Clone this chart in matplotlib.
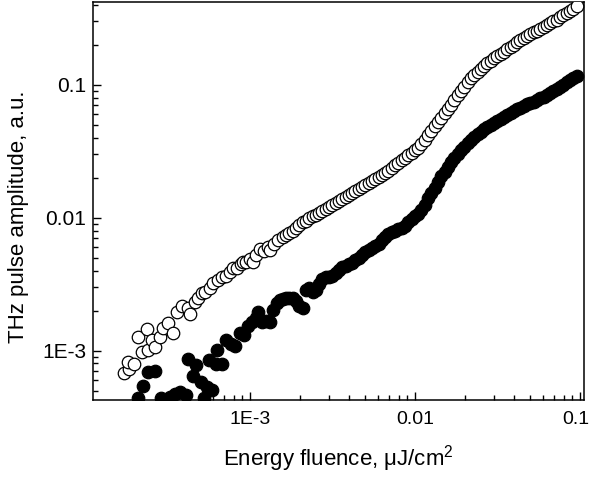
import numpy as np
import matplotlib
matplotlib.use("Agg")
import matplotlib.pyplot as plt
from matplotlib.ticker import FixedLocator, FixedFormatter, LogLocator, NullFormatter
from matplotlib.transforms import ScaledTranslation

# ---- data ----
# dense, log-spaced part shared by both curves
fluence_hi = [
    1.585e-3, 1.660e-3, 1.738e-3, 1.820e-3, 1.905e-3, 1.995e-3, 2.089e-3, 2.188e-3, 2.291e-3, 2.399e-3,
    2.512e-3, 2.630e-3, 2.754e-3, 2.884e-3, 3.020e-3, 3.162e-3, 3.311e-3, 3.467e-3, 3.631e-3, 3.802e-3,
    3.981e-3, 4.169e-3, 4.365e-3, 4.571e-3, 4.786e-3, 5.012e-3, 5.248e-3, 5.495e-3, 5.754e-3, 6.026e-3,
    6.310e-3, 6.607e-3, 6.918e-3, 7.244e-3, 7.586e-3, 7.943e-3, 8.318e-3, 8.710e-3, 9.120e-3, 9.550e-3,
    1.000e-2, 1.047e-2, 1.096e-2, 1.148e-2, 1.202e-2, 1.259e-2, 1.318e-2, 1.380e-2, 1.445e-2, 1.514e-2,
    1.585e-2, 1.660e-2, 1.738e-2, 1.820e-2, 1.905e-2, 1.995e-2, 2.089e-2, 2.188e-2, 2.291e-2, 2.399e-2,
    2.512e-2, 2.630e-2, 2.754e-2, 2.884e-2, 3.020e-2, 3.162e-2, 3.311e-2, 3.467e-2, 3.631e-2, 3.802e-2,
    3.981e-2, 4.169e-2, 4.365e-2, 4.571e-2, 4.786e-2, 5.012e-2, 5.248e-2, 5.495e-2, 5.754e-2, 6.026e-2,
    6.310e-2, 6.607e-2, 6.918e-2, 7.244e-2, 7.586e-2, 7.943e-2, 8.318e-2, 8.710e-2, 9.120e-2, 9.550e-2,
]
open_hi = [
    7.194e-3, 7.447e-3, 7.727e-3, 7.980e-3, 8.337e-3, 8.851e-3, 9.247e-3, 9.484e-3, 9.908e-3, 1.026e-2,
    1.054e-2, 1.084e-2, 1.122e-2, 1.161e-2, 1.199e-2, 1.242e-2, 1.285e-2, 1.330e-2, 1.377e-2, 1.426e-2,
    1.476e-2, 1.528e-2, 1.581e-2, 1.637e-2, 1.694e-2, 1.754e-2, 1.816e-2, 1.879e-2, 1.945e-2, 2.009e-2,
    2.089e-2, 2.173e-2, 2.265e-2, 2.366e-2, 2.472e-2, 2.588e-2, 2.704e-2, 2.825e-2, 2.951e-2, 3.083e-2,
    3.221e-2, 3.357e-2, 3.565e-2, 3.864e-2, 4.188e-2, 4.519e-2, 4.875e-2, 5.248e-2, 5.649e-2, 6.095e-2,
    6.561e-2, 7.096e-2, 7.674e-2, 8.318e-2, 8.974e-2, 9.683e-2, 0.1045, 0.1119, 0.1183, 0.1253,
    0.1321, 0.1384, 0.1449, 0.1514, 0.1578, 0.1641, 0.1706, 0.1774, 0.1849, 0.1928,
    0.2009, 0.2094, 0.2168, 0.2244, 0.2323, 0.2404, 0.2477, 0.2559, 0.2636, 0.2723,
    0.2812, 0.2904, 0.2999, 0.3097, 0.3214, 0.3327, 0.3451, 0.3573, 0.3733, 0.3890,
]
filled_hi = [
    2.455e-3, 2.495e-3, 2.495e-3, 2.495e-3, 2.369e-3, 2.173e-3, 2.099e-3, 2.866e-3, 2.968e-3, 2.770e-3,
    2.866e-3, 3.181e-3, 3.470e-3, 3.592e-3, 3.592e-3, 3.655e-3, 3.850e-3, 4.056e-3, 4.272e-3, 4.347e-3,
    4.500e-3, 4.579e-3, 4.826e-3, 4.996e-3, 5.262e-3, 5.543e-3, 5.739e-3, 5.941e-3, 6.151e-3, 6.368e-3,
    6.826e-3, 7.194e-3, 7.576e-3, 7.847e-3, 7.980e-3, 8.266e-3, 8.410e-3, 8.707e-3, 9.331e-3, 9.827e-3,
    1.035e-2, 1.072e-2, 1.149e-2, 1.253e-2, 1.415e-2, 1.543e-2, 1.683e-2, 1.867e-2, 2.072e-2, 2.221e-2,
    2.422e-2, 2.642e-2, 2.831e-2, 3.034e-2, 3.251e-2, 3.428e-2, 3.673e-2, 3.873e-2, 4.074e-2, 4.295e-2,
    4.446e-2, 4.688e-2, 4.853e-2, 5.023e-2, 5.200e-2, 5.383e-2, 5.572e-2, 5.768e-2, 5.971e-2, 6.182e-2,
    6.399e-2, 6.624e-2, 6.740e-2, 6.978e-2, 7.223e-2, 7.350e-2, 7.479e-2, 7.743e-2, 8.016e-2, 8.156e-2,
    8.443e-2, 8.741e-2, 9.049e-2, 9.368e-2, 9.698e-2, 0.1005, 0.1059, 0.1096, 0.1135, 0.1175,
]

# noisy low-fluence part, open circles
open_lo_x = [
    1.722e-4, 1.849e-4, 1.824e-4, 1.982e-4, 2.095e-4, 2.214e-4, 2.375e-4, 2.409e-4, 2.547e-4, 2.655e-4,
    2.848e-4, 2.970e-4, 3.184e-4, 3.413e-4, 3.610e-4, 3.870e-4, 4.207e-4, 4.325e-4, 4.642e-4, 4.840e-4,
    5.117e-4, 5.337e-4, 5.722e-4, 5.966e-4, 6.396e-4, 6.763e-4, 7.152e-4, 7.564e-4, 7.887e-4, 8.341e-4,
    8.820e-4, 9.071e-4, 9.457e-4, 1.000e-3, 1.043e-3, 1.087e-3, 1.150e-3, 1.216e-3, 1.286e-3, 1.322e-3,
    1.398e-3, 1.478e-3,
]
open_lo_y = [
    6.792e-4, 7.278e-4, 8.218e-4, 7.937e-4, 1.268e-3, 9.777e-4, 1.457e-3, 1.012e-3, 1.204e-3, 1.066e-3,
    1.268e-3, 1.483e-3, 1.617e-3, 1.359e-3, 1.957e-3, 2.173e-3, 2.099e-3, 1.890e-3, 2.328e-3, 2.495e-3,
    2.722e-3, 2.770e-3, 2.968e-3, 3.237e-3, 3.410e-3, 3.592e-3, 3.655e-3, 3.918e-3, 4.201e-3, 4.201e-3,
    4.500e-3, 4.660e-3, 4.660e-3, 4.909e-3, 4.660e-3, 5.262e-3, 5.840e-3, 5.640e-3, 6.046e-3, 5.739e-3,
    6.368e-3, 6.826e-3,
]

# noisy low-fluence part, filled circles
filled_lo_x = [
    2.095e-4, 2.246e-4, 2.409e-4, 2.655e-4, 2.888e-4, 3.275e-4, 3.511e-4, 3.765e-4, 4.093e-4, 4.207e-4,
    4.513e-4, 4.707e-4, 5.047e-4, 5.263e-4, 5.488e-4, 5.643e-4, 5.884e-4, 6.221e-4, 6.310e-4, 6.763e-4,
    7.152e-4, 7.670e-4, 8.111e-4, 8.697e-4, 9.197e-4, 9.725e-4, 1.028e-3, 1.087e-3, 1.118e-3, 1.182e-3,
    1.250e-3, 1.322e-3, 1.379e-3, 1.458e-3, 1.520e-3,
]
filled_lo_y = [
    4.402e-4, 5.420e-4, 6.909e-4, 7.031e-4, 4.402e-4, 4.479e-4, 4.718e-4, 4.885e-4, 4.637e-4, 8.658e-4,
    6.448e-4, 7.800e-4, 5.808e-4, 4.402e-4, 5.327e-4, 8.509e-4, 5.057e-4, 7.937e-4, 1.012e-3, 7.937e-4,
    1.204e-3, 1.123e-3, 1.085e-3, 1.359e-3, 1.313e-3, 1.535e-3, 1.645e-3, 1.764e-3, 1.957e-3, 1.645e-3,
    1.674e-3, 1.645e-3, 2.026e-3, 2.288e-3, 2.411e-3,
]

major_ticks = [1e-3, 1e-2, 1e-1]
major_labels = ["1E-3", "0.01", "0.1"]

# ---- style ----
plt.rcParams["font.family"] = ["Liberation Sans", "DejaVu Sans"]
plt.rcParams["mathtext.fontset"] = "custom"
plt.rcParams["mathtext.rm"] = "Liberation Sans"
plt.rcParams["mathtext.it"] = "Liberation Sans:italic"

fig = plt.figure(figsize=(5.92, 4.8), dpi=100)
ax = fig.add_axes([93 / 592, 1 - 400 / 480, (584 - 93) / 592, (400 - 2) / 480])

ms = 9
ax.plot(open_lo_x + fluence_hi, open_lo_y + open_hi, "o", ms=ms,
        mfc="white", mec="black", mew=0.9, zorder=3)
ax.plot(filled_lo_x + fluence_hi, filled_lo_y + filled_hi, "o", ms=ms,
        mfc="black", mec="black", mew=0.9, zorder=2)

ax.set_xscale("log")
ax.set_yscale("log")
ax.set_xlim(1.12e-4, 0.106)
ax.set_ylim(4.25e-4, 0.42)

for axis in (ax.xaxis, ax.yaxis):
    axis.set_major_locator(FixedLocator(major_ticks))
    axis.set_major_formatter(FixedFormatter(major_labels))
    axis.set_minor_locator(LogLocator(base=10, subs=np.arange(2, 10), numticks=20))
    axis.set_minor_formatter(NullFormatter())

ax.tick_params(which="both", direction="in", top=False, right=False, labelsize=15, width=1.0)
ax.tick_params(axis="x", labelsize=14)
ax.tick_params(which="major", length=6)
ax.tick_params(which="minor", length=3.5)
ax.tick_params(axis="x", which="major", pad=8)
ax.tick_params(axis="y", which="major", pad=5)

for sp in ax.spines.values():
    sp.set_linewidth(1.1)

ax.set_xlabel("Energy fluence, \u03bcJ/cm$^2$", fontsize=16)
ax.set_ylabel("THz pulse amplitude, a.u.", fontsize=16)
ax.xaxis.set_label_coords(0.5, -0.108)
ax.yaxis.set_label_coords(-0.13, 0.46)

# keep the "0.1" label inside the figure edge
fig.canvas.draw()
last = ax.xaxis.get_major_ticks()[-1].label1
last.set_transform(last.get_transform() + ScaledTranslation(-4 / 100, 0, fig.dpi_scale_trans))

fig.savefig("out.png", dpi=100)
